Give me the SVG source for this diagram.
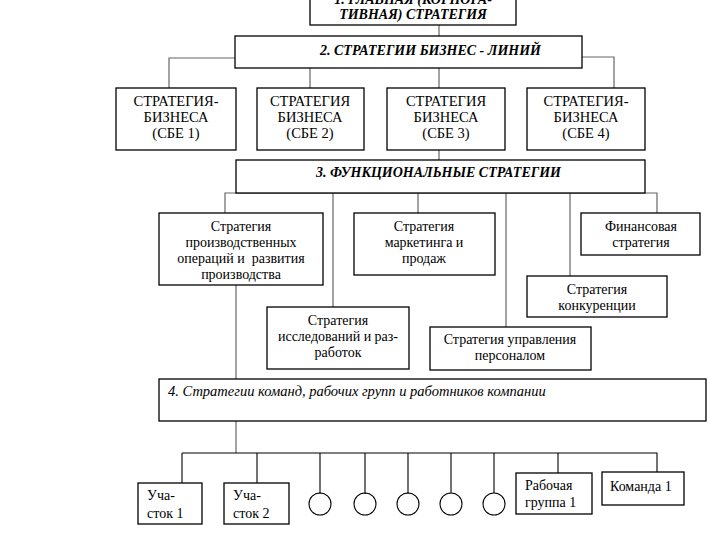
<svg xmlns="http://www.w3.org/2000/svg" width="720" height="540" viewBox="0 0 720 540" font-family="Liberation Serif, Times New Roman, serif">
<style>
.box{fill:#fff;stroke:#000;stroke-width:1.3}
.c{fill:none;stroke:#666;stroke-width:1.2}
.cb{fill:none;stroke:#000;stroke-width:1.1}
text{font-family:"Liberation Serif","Times New Roman",serif;font-size:14px;fill:#000}
.s{font-size:14.5px}
.h{font-weight:bold;font-style:italic;font-size:14px}
.i{font-style:italic;font-size:14.5px}
.m{text-anchor:middle}
</style>
<rect width="720" height="540" fill="#fff"/>
<g id="connectors">
<path class="c" d="M439 25V36"/>
<path class="c" d="M235 58H169V88M310 68V88M439 68V88M582 57H614V88"/>
<path class="c" d="M439 150V160"/>
<path class="c" d="M225 213V193H657V213M333 193V307M418 193V213M506 193V327M570 193V276"/>
<path class="c" d="M236 285V379M236 421V453"/>
<path class="cb" d="M182 453H657V472M182 453V483M257 453V483M320 453V494M365 453V494M408 453V494M451 453V493M494 453V493M558 453V473"/>
</g>
<g id="n1"><rect class="box" x="310" y="-5" width="206" height="30"/>
<text class="h m" x="413" y="4">1.  ГЛАВНАЯ (КОРПОРА-</text><text class="h m" x="413" y="19">ТИВНАЯ) СТРАТЕГИЯ</text></g>
<g id="n2"><rect class="box" x="235" y="36" width="347" height="32"/>
<text class="h" x="320" y="55">2.  СТРАТЕГИИ БИЗНЕС - ЛИНИЙ</text></g>
<g id="sbe1"><rect class="box" x="116" y="88" width="120" height="62"/>
<text class="s m" x="176" y="106">СТРАТЕГИЯ-</text><text class="s m" x="176" y="122">БИЗНЕСА</text><text class="s m" x="176" y="138">(СБЕ 1)</text></g>
<g id="sbe2"><rect class="box" x="257" y="88" width="107" height="62"/>
<text class="s m" x="310" y="106">СТРАТЕГИЯ</text><text class="s m" x="310" y="122">БИЗНЕСА</text><text class="s m" x="310" y="138">(СБЕ 2)</text></g>
<g id="sbe3"><rect class="box" x="387" y="88" width="118" height="62"/>
<text class="s m" x="446" y="106">СТРАТЕГИЯ</text><text class="s m" x="446" y="122">БИЗНЕСА</text><text class="s m" x="446" y="138">(СБЕ 3)</text></g>
<g id="sbe4"><rect class="box" x="527" y="88" width="118" height="62"/>
<text class="s m" x="586" y="106">СТРАТЕГИЯ-</text><text class="s m" x="586" y="122">БИЗНЕСА</text><text class="s m" x="586" y="138">(СБЕ 4)</text></g>
<g id="n3"><rect class="box" x="236" y="160" width="409" height="33"/>
<text class="h" x="316" y="177">3.  ФУНКЦИОНАЛЬНЫЕ СТРАТЕГИИ</text></g>
<g id="prod"><rect class="box" x="159" y="213" width="164" height="72"/>
<text class="m" x="241" y="231">Стратегия</text><text class="m" x="241" y="247">производственных</text><text class="m" x="241" y="263" xml:space="preserve">операций и  развития</text><text class="m" x="241" y="279">производства</text></g>
<g id="mkt"><rect class="box" x="354" y="213" width="141" height="62"/>
<text class="m" x="424" y="231">Стратегия</text><text class="m" x="424" y="247">маркетинга и</text><text class="m" x="424" y="263">продаж</text></g>
<g id="fin"><rect class="box" x="581" y="213" width="119" height="42"/>
<text class="m" x="641" y="231">Финансовая</text><text class="m" x="641" y="247">стратегия</text></g>
<g id="comp"><rect class="box" x="527" y="276" width="140" height="41"/>
<text class="m" x="597" y="294">Стратегия</text><text class="m" x="597" y="310">конкуренции</text></g>
<g id="rnd"><rect class="box" x="267" y="307" width="142" height="62"/>
<text class="m" x="338" y="325">Стратегия</text><text class="m" x="338" y="341">исследований и раз-</text><text class="m" x="338" y="357">работок</text></g>
<g id="hr"><rect class="box" x="430" y="327" width="161" height="43"/>
<text class="m" x="510" y="344">Стратегия управления</text><text class="m" x="510" y="360">персоналом</text></g>
<g id="n4"><rect class="box" x="159" y="379" width="547" height="42"/>
<text class="i" x="168" y="396">4. Стратегии команд, рабочих групп и работников компании</text></g>
<g id="u1"><rect class="box" x="138" y="483" width="64" height="41"/>
<text x="147" y="500">Уча-</text><text x="147" y="518">сток 1</text></g>
<g id="u2"><rect class="box" x="224" y="483" width="65" height="41"/>
<text x="233" y="500">Уча-</text><text x="233" y="518">сток 2</text></g>
<g id="e1"><circle class="cb" cx="320" cy="504" r="11"/></g>
<g id="e2"><circle class="cb" cx="365" cy="504" r="11"/></g>
<g id="e3"><circle class="cb" cx="408" cy="504" r="11"/></g>
<g id="e4"><circle class="cb" cx="451" cy="504" r="11"/></g>
<g id="e5"><circle class="cb" cx="494" cy="504" r="11"/></g>
<g id="wg"><rect class="box" x="516" y="473" width="76" height="41"/>
<text x="525" y="490">Рабочая</text><text x="525" y="507">группа 1</text></g>
<g id="team"><rect class="box" x="602" y="472" width="82" height="33"/>
<text x="610" y="491">Команда 1</text></g>
</svg>
